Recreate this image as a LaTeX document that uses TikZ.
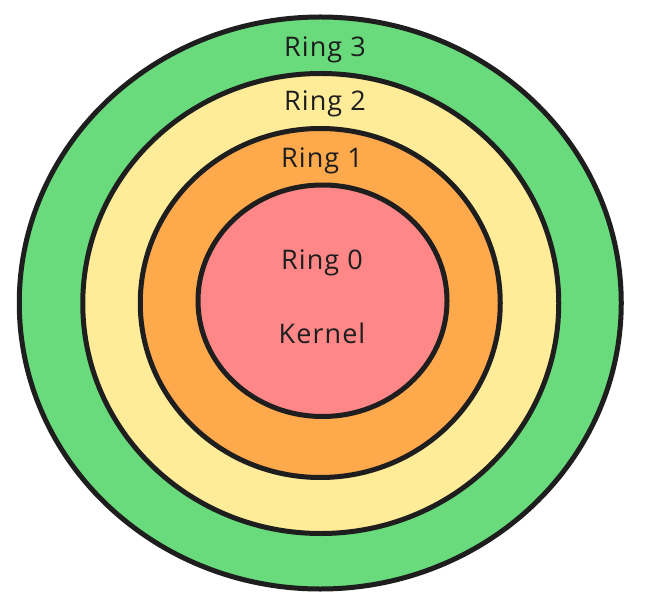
\documentclass[tikz,border=0pt]{standalone}
\usepackage{fontspec}
\setmainfont{Open Sans}[LetterSpace=4]
\usetikzlibrary{shapes.geometric}
\definecolor{ringthree}{HTML}{69DB7C}
\definecolor{ringtwo}{HTML}{FFEC99}
\definecolor{ringone}{HTML}{FFA94D}
\definecolor{ringzero}{HTML}{FF8787}
\definecolor{stroke}{HTML}{1E1E1E}
\tikzset{
  ring/.style={ellipse, draw=stroke, line width=5pt, inner sep=0pt, outer sep=0pt},
  label/.style={anchor=base, text=stroke, font=\fontsize{27}{32}\selectfont, inner sep=0pt}
}
\begin{document}
\begin{tikzpicture}[x=1pt,y=1pt]
\useasboundingbox (0,0) rectangle (647,603);
\node[ring, fill=ringthree, minimum width=602pt, minimum height=572pt] (r3) at (320.25,300) {};
\node[ring, fill=ringtwo, minimum width=476pt, minimum height=460pt] (r2) at (320.75,299.5) {};
\node[ring, fill=ringone, minimum width=360pt, minimum height=349pt] (r1) at (320.25,300) {};
\node[ring, fill=ringzero, minimum width=249pt, minimum height=231.5pt] (r0) at (322.5,302.25) {};
\node[label] (t3) at (325,546) {Ring 3};
\node[label] (t2) at (325,492) {Ring 2};
\node[label] (t1) at (322,435) {Ring 1};
\node[label] (t0) at (322,333) {Ring 0};
\node[label] (tk) at (322,260) {Kernel};
\end{tikzpicture}
\end{document}
